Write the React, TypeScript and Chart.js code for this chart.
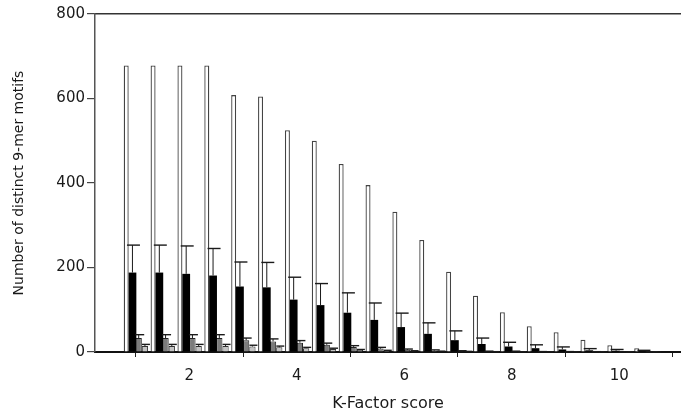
import React, { useEffect, useRef } from "react";
import { Chart, registerables } from "chart.js";

Chart.register(...registerables);

// K-Factor score groups
const kFactor = [1, 1.5, 2, 2.5, 3, 3.5, 4, 4.5, 5, 5.5, 6, 6.5, 7, 7.5, 8, 8.5, 9, 9.5, 10, 10.5];

// Series values
const totalMotifs = [678, 678, 678, 678, 608, 605, 525, 500, 445, 395, 332, 265, 190, 133, 94, 61, 47, 29, 16, 9];
const seriesBlack = [188, 188, 185, 181, 155, 153, 124, 111, 93, 76, 59, 43, 28, 19, 13, 9, 6, 4, 3, 2];
const seriesBlackErr = [65, 65, 66, 64, 58, 59, 53, 51, 47, 40, 33, 26, 22, 14, 10, 8, 6, 4, 3, 2];
const seriesGray = [33, 33, 33, 33, 28, 25, 22, 17, 12, 8, 5, 3, 2, 1, 1, 0.5, 0.5, 0.3, 0.2, 0.1];
const seriesGrayErr = [8, 8, 8, 8, 5, 6, 5, 4, 3, 3, 2, 2, 1, 1, 1, 0.5, 0.5, 0.5, 0.3, 0.2];
const seriesLight = [14, 14, 14, 14, 13, 11, 9, 7, 5, 3, 2, 1.5, 1, 0.5, 0.4, 0.3, 0.2, 0.2, 0.1, 0.1];
const seriesLightErr = [4, 4, 4, 4, 3, 3, 2, 2, 1, 1, 1, 0.5, 0.5, 0.3, 0.3, 0.2, 0.2, 0.1, 0.1, 0.1];

// Axis ticks
const xTicks = [2, 4, 6, 8, 10];
const yTicks = [0, 200, 400, 600, 800];

const errorBarPlugin = {
  id: "errorBars",
  afterDatasetsDraw(chart: any) {
    const ctx = chart.ctx;
    const yScale = chart.scales.y;
    chart.data.datasets.forEach((ds: any, di: number) => {
      const errs = ds.errors;
      if (!errs) return;
      const meta = chart.getDatasetMeta(di);
      meta.data.forEach((bar: any, i: number) => {
        const v = ds.data[i].y;
        const top = yScale.getPixelForValue(v + errs[i]);
        const cx = bar.x;
        const half = ds.capWidth / 2;
        ctx.save();
        ctx.strokeStyle = "#1a1a1a";
        ctx.lineWidth = 1;
        ctx.beginPath();
        ctx.moveTo(cx, bar.y);
        ctx.lineTo(cx, top);
        ctx.stroke();
        ctx.lineWidth = 1.4;
        ctx.beginPath();
        ctx.moveTo(cx - half + 1, top);
        ctx.lineTo(cx + half + 1, top);
        ctx.stroke();
        ctx.restore();
      });
    });
  },
};

export default function App() {
  const canvasRef = useRef<HTMLCanvasElement | null>(null);

  useEffect(() => {
    if (!canvasRef.current) return;
    const toPts = (arr: number[]) => kFactor.map((x, i) => ({ x, y: arr[i] }));
    const font = { family: "DejaVu Sans", size: 15 };
    const chart = new Chart(canvasRef.current, {
      type: "bar",
      data: {
        datasets: [
          {
            data: toPts(totalMotifs),
            backgroundColor: "#ffffff",
            borderColor: "#444444",
            borderWidth: 1.3,
            barPercentage: 0.8,
            categoryPercentage: 0.93,
          },
          {
            data: toPts(seriesBlack),
            backgroundColor: "#000000",
            borderColor: "#000000",
            borderWidth: 0,
            barPercentage: 1.25,
            categoryPercentage: 0.93,
            errors: seriesBlackErr,
            capWidth: 13,
          },
          {
            data: toPts(seriesGray),
            backgroundColor: "#7c7c7c",
            borderColor: "#222222",
            borderWidth: 1,
            barPercentage: 1.0,
            categoryPercentage: 0.93,
            errors: seriesGrayErr,
            capWidth: 9,
          },
          {
            data: toPts(seriesLight),
            backgroundColor: "#c4c4c4",
            borderColor: "#333333",
            borderWidth: 1,
            barPercentage: 1.0,
            categoryPercentage: 0.93,
            errors: seriesLightErr,
            capWidth: 8,
          },
        ] as any,
      },
      options: {
        animation: false,
        responsive: true,
        maintainAspectRatio: false,
        layout: { padding: 0 },
        plugins: { legend: { display: false }, tooltip: { enabled: false } },
        scales: {
          x: {
            type: "linear",
            position: "bottom",
            min: 0.245,
            max: 11.15,
            offset: false,
            afterBuildTicks: (axis: any) => {
              axis.ticks = xTicks.map((v) => ({ value: v }));
            },
            afterFit: (s: any) => {
              s.height = 61;
            },
            grid: { drawOnChartArea: false, drawTicks: true, tickLength: 5, color: "#222" },
            border: { display: true, color: "#111", width: 2 },
            ticks: { font, color: "#1a1a1a", padding: 10, maxRotation: 0 },
            title: {
              display: true,
              text: "K-Factor score",
              font: { family: "DejaVu Sans", size: 16 },
              color: "#1a1a1a",
              padding: { top: 0, bottom: 0 },
            },
          },
          xTop: {
            type: "linear",
            position: "top",
            min: 0.245,
            max: 11.15,
            afterFit: (s: any) => {
              s.height = 14;
            },
            grid: { display: false, drawTicks: false },
            ticks: { display: false },
            border: { display: true, color: "#333", width: 1.5 },
          },
          y: {
            type: "linear",
            min: 0,
            max: 800,
            afterBuildTicks: (axis: any) => {
              axis.ticks = yTicks.map((v) => ({ value: v }));
            },
            afterFit: (s: any) => {
              s.width = 95;
            },
            grid: { drawOnChartArea: false, drawTicks: true, tickLength: 8, color: "#444", lineWidth: 1.2 },
            border: { display: true, color: "#555", width: 1.5 },
            ticks: { font, color: "#1a1a1a", padding: 2 },
            title: {
              display: true,
              text: "Number of distinct 9-mer motifs",
              font: { family: "DejaVu Sans", size: 14 },
              color: "#1a1a1a",
              padding: { top: 11, bottom: 0 },
            },
          },
        },
      } as any,
      plugins: [errorBarPlugin],
    });
    return () => chart.destroy();
  }, []);

  return (
    <div style={{ position: "fixed", left: 0, top: 0, width: 681, height: 413, background: "#fff" }}>
      <canvas ref={canvasRef} />
    </div>
  );
}
